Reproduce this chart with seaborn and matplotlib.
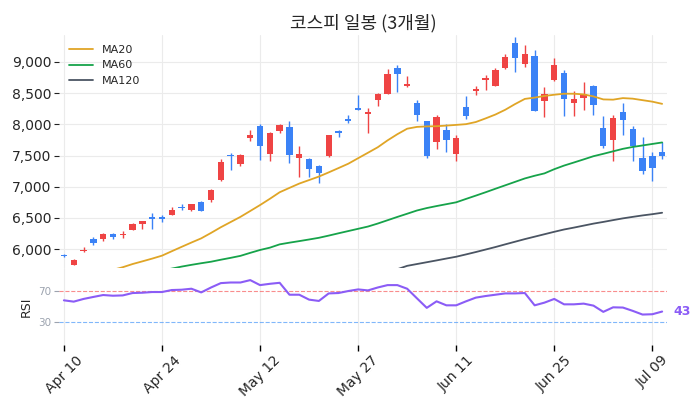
import matplotlib
matplotlib.use("Agg")
import matplotlib.pyplot as plt
import seaborn as sns
import numpy as np
import pandas as pd

# ---------------- data ----------------
tick_positions = [0, 10, 20, 30, 40, 50, 60]
tick_labels = ["Apr 10", "Apr 24", "May 12", "May 27", "Jun 11", "Jun 25", "Jul 09"]

opens = [5915, 5749, 5975, 6164, 6164, 6250, 6224, 6314, 6403, 6521,
         6521, 6547, 6681, 6633, 6761, 6786, 7106, 7516, 7367, 7776,
         7979, 7521, 7888, 7958, 7457, 7452, 7340, 7489, 7899, 8090,
         8266, 8170, 8382, 8489, 8904, 8617, 8346, 8058, 7718, 7915,
         7521, 8282, 8527, 8708, 8617, 8899, 9298, 8957, 9096, 8366,
         8708, 8820, 8335, 8414, 8606, 7942, 7744, 8197, 7931, 7463,
         7489, 7559]
highs = [5925, 5851, 6043, 6202, 6260, 6260, 6298, 6426, 6450, 6574,
         6542, 6681, 6729, 6725, 6765, 6958, 7447, 7543, 7532, 7910,
         8006, 7870, 8010, 8058, 7655, 7468, 7345, 7835, 7904, 8149,
         8469, 8266, 8495, 8888, 8952, 8772, 8389, 8060, 8143, 8006,
         7824, 8453, 8617, 8782, 8893, 9128, 9394, 9267, 9187, 8601,
         9059, 8872, 8526, 8676, 8633, 8138, 8154, 8341, 7968, 7798,
         7553, 7712]
lows = [5880, 5745, 5956, 6068, 6139, 6164, 6180, 6306, 6330, 6330,
        6435, 6540, 6627, 6611, 6605, 6761, 7100, 7272, 7329, 7728,
        7436, 7415, 7856, 7383, 7160, 7160, 7064, 7480, 7798, 8015,
        8223, 7856, 8298, 8480, 8516, 8590, 8054, 7463, 7612, 7559,
        7420, 8090, 8469, 8553, 8606, 8888, 8836, 8915, 8210, 8111,
        8700, 8138, 8138, 8229, 8154, 7623, 7409, 7830, 7409, 7208,
        7085, 7452]
closes = [5895, 5824, 5984, 6100, 6250, 6196, 6240, 6410, 6446, 6490,
          6490, 6633, 6659, 6718, 6611, 6952, 7399, 7500, 7511, 7835,
          7648, 7862, 7990, 7505, 7527, 7281, 7217, 7830, 7856, 8047,
          8234, 8202, 8489, 8808, 8808, 8649, 8154, 7489, 8122, 7744,
          7787, 8127, 8564, 8745, 8872, 9075, 9059, 9128, 8213, 8485,
          8952, 8410, 8410, 8489, 8303, 7648, 8106, 8070, 7659, 7250,
          7298, 7489]

nan = np.nan
ma20 = [5470, 5510, 5550, 5590, 5630, 5670, 5712, 5763, 5806, 5850,
        5897, 5968, 6038, 6107, 6174, 6261, 6352, 6435, 6518, 6612,
        6707, 6807, 6912, 6982, 7051, 7107, 7163, 7230, 7299, 7369,
        7457, 7544, 7632, 7742, 7841, 7929, 7958, 7966, 7969, 7979,
        7990, 8002, 8036, 8094, 8156, 8232, 8323, 8406, 8427, 8453,
        8473, 8489, 8489, 8478, 8446, 8398, 8394, 8419, 8410, 8386,
        8362, 8327]
ma60 = [nan, nan, nan, nan, nan, nan, nan, nan, 5600, 5630,
        5660, 5690, 5722, 5750, 5776, 5800, 5832, 5862, 5894, 5942,
        5988, 6025, 6078, 6105, 6130, 6156, 6183, 6218, 6255, 6291,
        6327, 6363, 6411, 6464, 6517, 6568, 6620, 6659, 6691, 6721,
        6751, 6805, 6858, 6912, 6968, 7023, 7078, 7133, 7176, 7214,
        7281, 7339, 7388, 7438, 7489, 7527, 7567, 7607, 7637, 7661,
        7685, 7709]
ma120 = [nan] * 32 + [5615, 5645, 5680, 5734, 5763, 5792, 5821, 5851,
                      5880, 5917, 5955, 5995, 6035, 6078, 6120, 6162, 6201, 6240,
                      6279, 6316, 6346, 6378, 6410, 6437, 6466, 6494, 6518, 6541,
                      6561, 6584]
rsi = [57.9, 56.2, 59.7, 62.3, 64.8, 63.9, 64.3, 67.4, 67.8, 68.7,
       68.7, 71.3, 71.7, 73.0, 68.2, 74.6, 80.3, 81.1, 81.1, 84.2,
       77.7, 79.4, 80.7, 65.2, 65.2, 58.8, 57.1, 66.9, 67.4, 70.0,
       72.1, 70.8, 74.6, 77.7, 77.7, 73.0, 60.5, 48.1, 56.6, 51.4,
       51.4, 56.6, 61.4, 63.5, 65.2, 66.9, 66.9, 67.4, 51.4, 54.9,
       59.7, 52.7, 52.7, 53.6, 51.0, 42.9, 48.8, 48.5, 44.2, 39.4,
       39.8, 43.3]

# ---------------- style ----------------
sns.set_theme(style="whitegrid")
plt.rcParams['font.family'] = ['DejaVu Sans']
plt.rcParams['grid.color'] = '#ebebeb'
plt.rcParams['grid.linewidth'] = 0.8

UP = '#ef4444'
DOWN = '#3b82f6'

df = pd.DataFrame({"i": np.arange(len(closes)), "open": opens, "high": highs,
                   "low": lows, "close": closes, "ma20": ma20, "ma60": ma60,
                   "ma120": ma120, "rsi": rsi})

fig = plt.figure(figsize=(7, 4.11), dpi=100)
L, W = 0.0843, 0.8686
ax1 = fig.add_axes([L, 0.348, W, 0.567])
ax2 = fig.add_axes([L, 0.161, W, 0.187], sharex=ax1)

# candles
colors = [UP if c >= o else DOWN for o, c in zip(df["open"], df["close"])]
ax1.vlines(df["i"], df["low"], df["high"], colors=colors, linewidth=1.0, zorder=2)
body_bottom = np.minimum(df["open"], df["close"])
body_h = np.maximum(np.abs(df["close"] - df["open"]), 12)
ax1.bar(df["i"], body_h, bottom=body_bottom, width=0.65, color=colors,
        linewidth=0, zorder=3)

# moving averages
sns.lineplot(data=df, x="i", y="ma20", ax=ax1, color='#e0a526', linewidth=1.3, label='MA20', zorder=4)
sns.lineplot(data=df, x="i", y="ma60", ax=ax1, color='#16a34a', linewidth=1.3, label='MA60', zorder=4)
sns.lineplot(data=df, x="i", y="ma120", ax=ax1, color='#4b5563', linewidth=1.3, label='MA120', zorder=4)

ax1.set_ylim(5700, 9430)
ax1.set_xlim(-0.5, 61.5)
ax1.set_yticks([6000, 6500, 7000, 7500, 8000, 8500, 9000])
ax1.yaxis.set_major_formatter(matplotlib.ticker.FuncFormatter(lambda v, p: f"{int(v):,}"))
ax1.tick_params(axis='y', left=True, length=3.5, width=0.8, color='#222222', labelsize=10, pad=2)
ax1.tick_params(axis='x', bottom=False, labelbottom=False)
ax1.set_xlabel("")
ax1.set_ylabel("")
for s in ax1.spines.values():
    s.set_visible(False)
leg = ax1.legend(loc='upper left', frameon=False, fontsize=8, handlelength=2.2,
                 borderaxespad=0.5, labelspacing=0.5)

ax1.set_title("코스피 일봉 (3개월)", family=['Noto Sans CJK KR', 'DejaVu Sans'],
              fontsize=13, pad=5)

# RSI
sns.lineplot(data=df, x="i", y="rsi", ax=ax2, color='#8b5cf6', linewidth=1.5, zorder=4)
ax2.axhline(70, color='#f87171', linestyle='--', linewidth=0.8, alpha=0.8, zorder=2)
ax2.axhline(30, color='#60a5fa', linestyle='--', linewidth=0.8, alpha=0.8, zorder=2)
ax2.set_ylim(0, 100)
ax2.set_yticks([30, 70])
ax2.grid(axis='y', visible=False)
ax2.tick_params(axis='y', left=True, length=3.5, width=0.8, color='#9ca3af',
                labelsize=7.5, labelcolor='#9ca3af', pad=2)
ax2.set_ylabel("RSI", fontsize=9)
ax2.set_xlabel("")
ax2.set_xticks(tick_positions)
ax2.set_xticklabels(tick_labels, rotation=45, fontsize=10)
ax2.tick_params(axis='x', bottom=True, length=4, width=1, color='black', pad=2)
for s in ax2.spines.values():
    s.set_visible(False)
last = df["rsi"].iloc[-1]
ax2.annotate(f"{last:.0f}", xy=(df["i"].iloc[-1], last), xytext=(8, 0),
             textcoords='offset points', ha='left', va='center',
             color='#8b5cf6', fontsize=9, fontweight='bold')

fig.savefig("out.png", dpi=100)
